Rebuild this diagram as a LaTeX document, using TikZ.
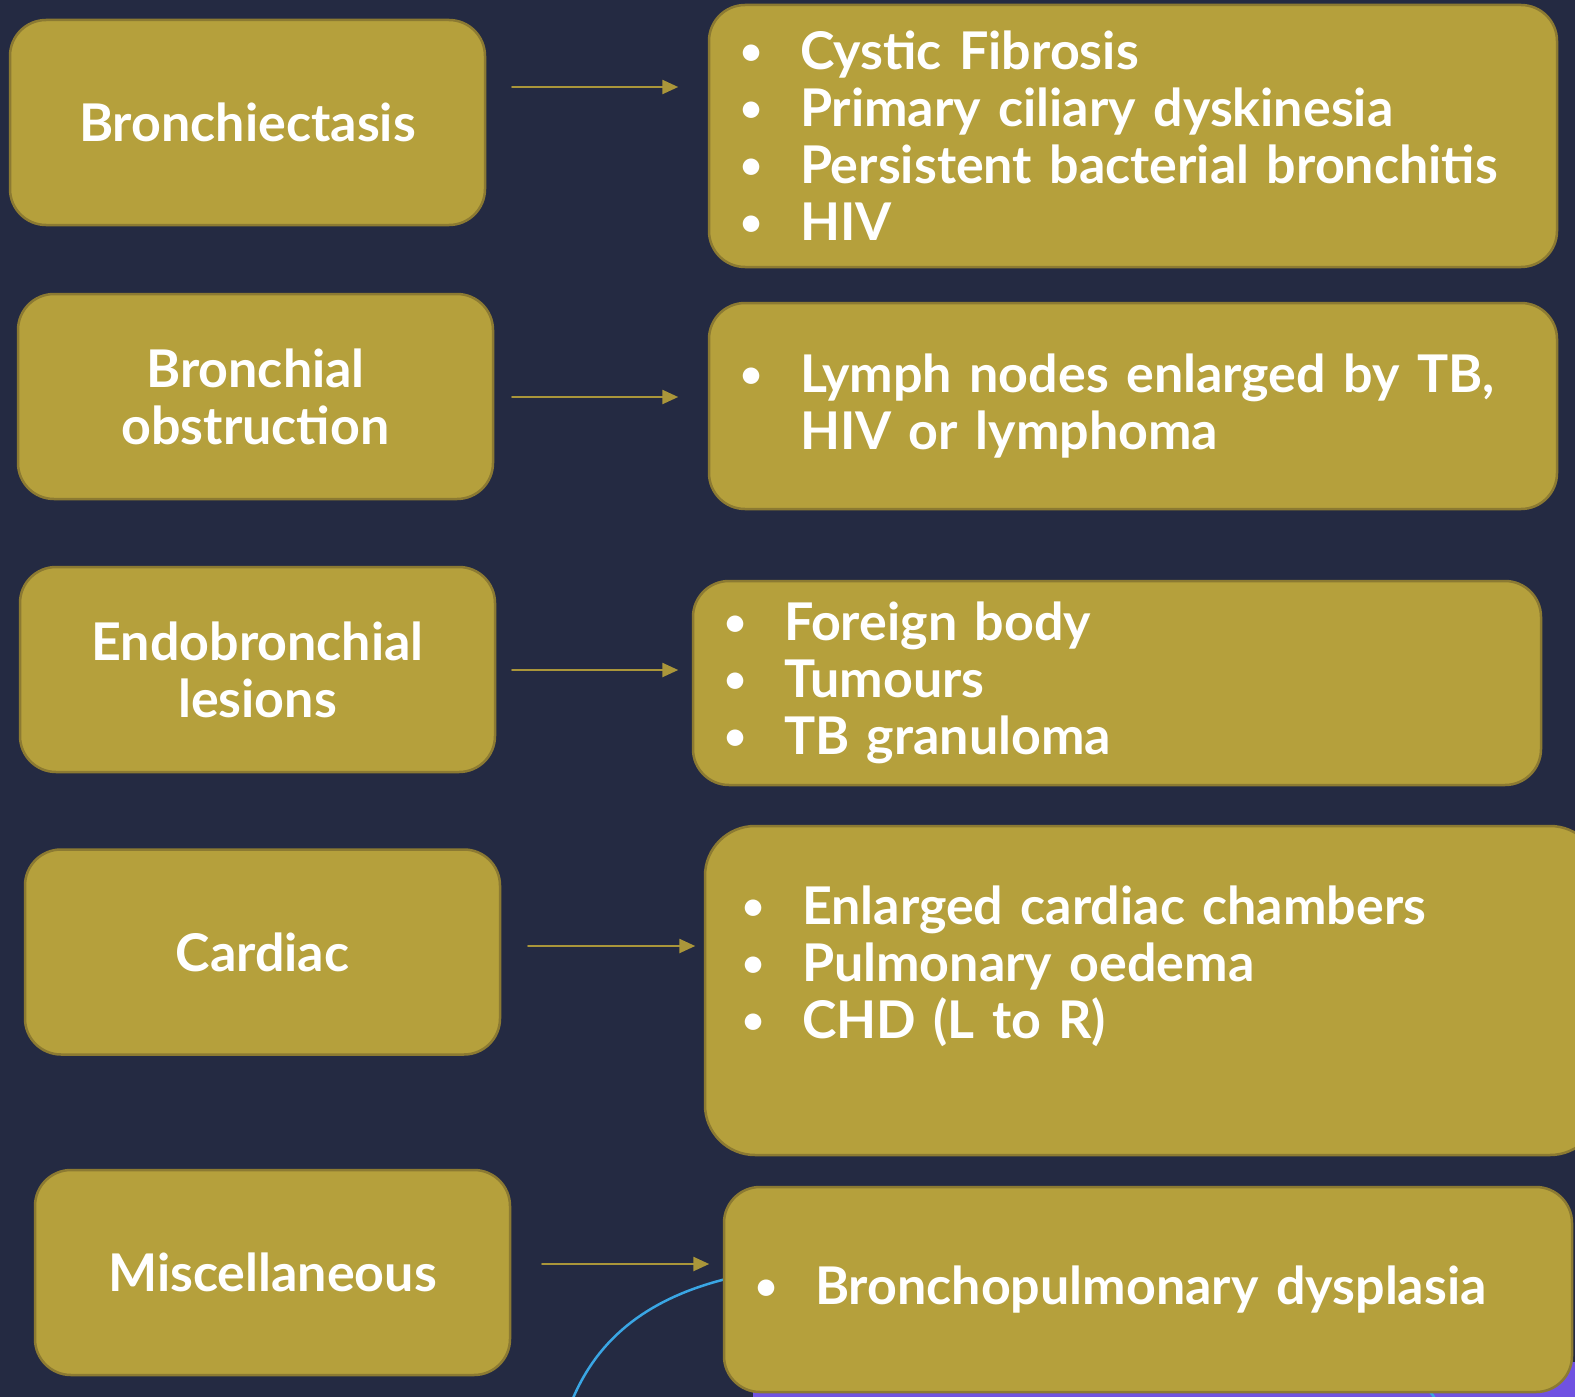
\documentclass[tikz,border=0pt]{standalone}
\usepackage{fontspec}
\setmainfont{Lato}
\usetikzlibrary{arrows.meta}
\definecolor{navybg}{HTML}{242A42}
\definecolor{boxfill}{HTML}{B5A03C}
\definecolor{boxline}{HTML}{8C7A32}
\definecolor{linkcol}{HTML}{AA963A}
\definecolor{curveblue}{HTML}{3AA6E4}
\definecolor{purplebar}{HTML}{7052E2}
\newlength{\bulletgap}
\setlength{\bulletgap}{60pt}
\newcommand{\itm}[1]{\makebox[\bulletgap][l]{\raisebox{5pt}{\fontsize{38}{38}\selectfont •}}#1}

\begin{document}
\begin{tikzpicture}[x=1pt, y=-1pt, line cap=round, line join=round, >=Stealth,
  cause/.style={draw=boxline, line width=2.5pt, fill=boxfill, rounded corners=36pt,
    text=white, font=\fontsize{52}{57}\selectfont\bfseries, align=center,
    minimum width=475pt, minimum height=205pt, inner sep=0pt},
  detail/.style={cause, align=left, inner xsep=31pt},
  link/.style={draw=linkcol, line width=2.5pt, -{Triangle[length=16pt,width=14pt]}}]
  \useasboundingbox (0,0) rectangle (1575,1397);
  \fill[navybg] (0,0) rectangle (1575,1397);

  % bits of the next slide peeking in at the bottom
  \fill[purplebar] (753,1362) rectangle (1600,1420);
  \draw[curveblue, line width=2.5pt] (760,1272) .. controls (650,1290) and (590,1340) .. (565,1420);
  \draw[curveblue, line width=2.5pt] (1418,1384) .. controls (1430,1390) .. (1442,1410);

  % causes
  \node[cause] (c1) at (247.5,122.5) {Bronchiectasis};
  \node[cause] (c2) at (255.5,396.5) {Bronchial\\obstruction};
  \node[cause] (c3) at (257.5,669.5) {Endobronchial\\lesions};
  \node[cause] (c4) at (262.5,952) {Cardiac};
  \node[cause] (c5) at (272.5,1272.5) {Miscellaneous};

  % details
  \node[detail, minimum width=848pt, minimum height=262pt, text width=786pt] (d1) at (1133,136)
    {\itm{Cystic Fibrosis}\\ \itm{Primary ciliary dyskinesia}\\ \itm{Persistent bacterial bronchitis}\\ \itm{HIV}};
  \node[detail, minimum width=848pt, minimum height=206pt, text width=786pt] (d2) at (1133,406)
    {\itm{Lymph nodes enlarged by TB,}\\ \hspace*{\bulletgap}HIV or lymphoma};
  \node[detail, minimum width=848pt, minimum height=204pt, text width=786pt] (d3) at (1117,683)
    {\itm{Foreign body}\\ \itm{Tumours}\\ \itm{TB granuloma}};
  \node[detail, rounded corners=50pt, minimum width=895pt, minimum height=329pt, inner xsep=37pt, text width=821pt] (d4) at (1152.5,990.5)
    {\itm{Enlarged cardiac chambers}\\ \itm{Pulmonary oedema}\\ \itm{CHD (L to R)}\\[-18pt] \strut};
  \node[detail, minimum width=848pt, minimum height=205pt, text width=786pt] (d5) at (1148,1289.5)
    {\itm{Bronchopulmonary dysplasia}};

  % arrows
  \draw[link] (c1.east |- 0,87) ++(26,0) -- ++(166,0);
  \draw[link] (c2.east |- 0,397) ++(18,0) -- ++(166,0);
  \draw[link] (c3.east |- 0,670) ++(16,0) -- ++(166,0);
  \draw[link] (c4.east |- 0,946) ++(27,0) -- ++(167,0);
  \draw[link] (c5.east |- 0,1264) ++(31,0) -- ++(167,0);
\end{tikzpicture}
\end{document}
